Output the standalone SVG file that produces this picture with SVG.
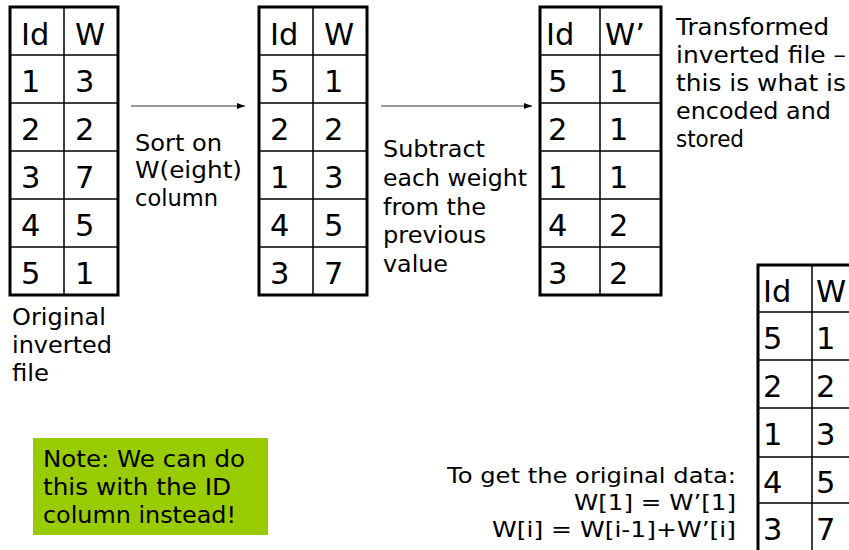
<svg xmlns="http://www.w3.org/2000/svg" width="849" height="550" viewBox="0 0 849 550">
<defs>
<style>
.cell{font-family:"DejaVu Sans","Verdana",sans-serif;font-size:30.5px;fill:#000}
.lbl{font-family:"DejaVu Sans","Verdana",sans-serif;font-size:23px;fill:#000}
.sm{font-family:"DejaVu Sans","Verdana",sans-serif;font-size:21px;fill:#000}
.outer{fill:#fff;stroke:#000;stroke-width:3}
.inner{stroke:#000;stroke-width:1.5;fill:none}
.conn{stroke:#333;stroke-width:1.2;fill:none}
</style>
<marker id="ah" markerWidth="8" markerHeight="6" refX="8" refY="3" orient="auto" markerUnits="userSpaceOnUse">
<path d="M0,0 L8,3 L0,6 Z" fill="#000"/>
</marker>
</defs>
<rect width="849" height="550" fill="#fff"/>

<g id="table-original">
<rect class="outer" x="10" y="7" width="108" height="288"/>
<path class="inner" d="M64,7V295 M10,55H118 M10,103H118 M10,151H118 M10,199H118 M10,247H118"/>
<text class="cell" x="21" y="45">Id</text><text class="cell" x="75" y="45">W</text>
<text class="cell" x="21" y="92">1</text><text class="cell" x="75" y="92">3</text>
<text class="cell" x="21" y="140">2</text><text class="cell" x="75" y="140">2</text>
<text class="cell" x="21" y="188">3</text><text class="cell" x="75" y="188">7</text>
<text class="cell" x="21" y="236">4</text><text class="cell" x="75" y="236">5</text>
<text class="cell" x="21" y="284">5</text><text class="cell" x="75" y="284">1</text>
</g>

<g id="label-original">
<text class="lbl" x="12" y="325" textLength="94" lengthAdjust="spacingAndGlyphs">Original</text>
<text class="lbl" x="12" y="353" textLength="100" lengthAdjust="spacingAndGlyphs">inverted</text>
<text class="lbl" x="12" y="381" textLength="37" lengthAdjust="spacingAndGlyphs">file</text>
</g>

<g id="table-sorted">
<rect class="outer" x="259" y="7" width="108" height="288"/>
<path class="inner" d="M313,7V295 M259,55H367 M259,103H367 M259,151H367 M259,199H367 M259,247H367"/>
<text class="cell" x="270" y="45">Id</text><text class="cell" x="324" y="45">W</text>
<text class="cell" x="270" y="92">5</text><text class="cell" x="324" y="92">1</text>
<text class="cell" x="270" y="140">2</text><text class="cell" x="324" y="140">2</text>
<text class="cell" x="270" y="188">1</text><text class="cell" x="324" y="188">3</text>
<text class="cell" x="270" y="236">4</text><text class="cell" x="324" y="236">5</text>
<text class="cell" x="270" y="284">3</text><text class="cell" x="324" y="284">7</text>
</g>

<g id="table-transformed">
<rect class="outer" x="540" y="7" width="121" height="288"/>
<path class="inner" d="M600,7V295 M540,55H661 M540,103H661 M540,151H661 M540,199H661 M540,247H661"/>
<text class="cell" x="546" y="45">Id</text><text class="cell" x="605" y="45">W’</text>
<text class="cell" x="548" y="92">5</text><text class="cell" x="609" y="92">1</text>
<text class="cell" x="548" y="140">2</text><text class="cell" x="609" y="140">1</text>
<text class="cell" x="548" y="188">1</text><text class="cell" x="609" y="188">1</text>
<text class="cell" x="548" y="236">4</text><text class="cell" x="609" y="236">2</text>
<text class="cell" x="548" y="284">3</text><text class="cell" x="609" y="284">2</text>
</g>

<g id="label-transformed">
<text class="lbl" x="676" y="35" textLength="153" lengthAdjust="spacingAndGlyphs">Transformed</text>
<text class="lbl" x="676" y="63" textLength="170" lengthAdjust="spacingAndGlyphs">inverted file –</text>
<text class="lbl" x="676" y="91" textLength="170" lengthAdjust="spacingAndGlyphs">this is what is</text>
<text class="lbl" x="676" y="119" textLength="155" lengthAdjust="spacingAndGlyphs">encoded and</text>
<text class="lbl" x="676" y="147" textLength="68" lengthAdjust="spacingAndGlyphs">stored</text>
</g>

<g id="table-restored">
<rect class="outer" x="758" y="265" width="108" height="300"/>
<path class="inner" d="M812,265V560 M758,312H866 M758,360H866 M758,408H866 M758,457H866 M758,503H866"/>
<text class="cell" x="763" y="302">Id</text><text class="cell" x="816" y="302">W</text>
<text class="cell" x="763" y="349">5</text><text class="cell" x="816" y="349">1</text>
<text class="cell" x="763" y="397">2</text><text class="cell" x="816" y="397">2</text>
<text class="cell" x="763" y="445">1</text><text class="cell" x="816" y="445">3</text>
<text class="cell" x="763" y="493">4</text><text class="cell" x="816" y="493">5</text>
<text class="cell" x="763" y="540">3</text><text class="cell" x="816" y="540">7</text>
</g>

<g id="note">
<rect x="33" y="438" width="235" height="97" fill="#99CC00"/>
<text class="lbl" x="43" y="467" textLength="202" lengthAdjust="spacingAndGlyphs">Note: We can do</text>
<text class="lbl" x="43" y="495" textLength="188" lengthAdjust="spacingAndGlyphs">this with the ID</text>
<text class="lbl" x="43" y="523" textLength="193" lengthAdjust="spacingAndGlyphs">column instead!</text>
</g>

<g id="formula">
<text class="sm" x="736" y="483" text-anchor="end" textLength="289" lengthAdjust="spacingAndGlyphs">To get the original data:</text>
<text class="sm" x="736" y="510" text-anchor="end" textLength="162" lengthAdjust="spacingAndGlyphs">W[1] = W’[1]</text>
<text class="sm" x="736" y="537" text-anchor="end" textLength="244" lengthAdjust="spacingAndGlyphs">W[i] = W[i-1]+W’[i]</text>
</g>

<g id="connectors">
<line class="conn" x1="131" y1="106" x2="245" y2="106" marker-end="url(#ah)"/>
<text class="lbl" x="135" y="151" textLength="87" lengthAdjust="spacingAndGlyphs">Sort on</text>
<text class="lbl" x="135" y="178" textLength="107" lengthAdjust="spacingAndGlyphs">W(eight)</text>
<text class="lbl" x="135" y="206" textLength="83" lengthAdjust="spacingAndGlyphs">column</text>
<line class="conn" x1="381" y1="106" x2="532" y2="106" marker-end="url(#ah)"/>
<text class="lbl" x="383" y="157" textLength="102" lengthAdjust="spacingAndGlyphs">Subtract</text>
<text class="lbl" x="383" y="186" textLength="144" lengthAdjust="spacingAndGlyphs">each weight</text>
<text class="lbl" x="383" y="215" textLength="103" lengthAdjust="spacingAndGlyphs">from the</text>
<text class="lbl" x="383" y="243" textLength="103" lengthAdjust="spacingAndGlyphs">previous</text>
<text class="lbl" x="383" y="272" textLength="65" lengthAdjust="spacingAndGlyphs">value</text>
</g>
</svg>
